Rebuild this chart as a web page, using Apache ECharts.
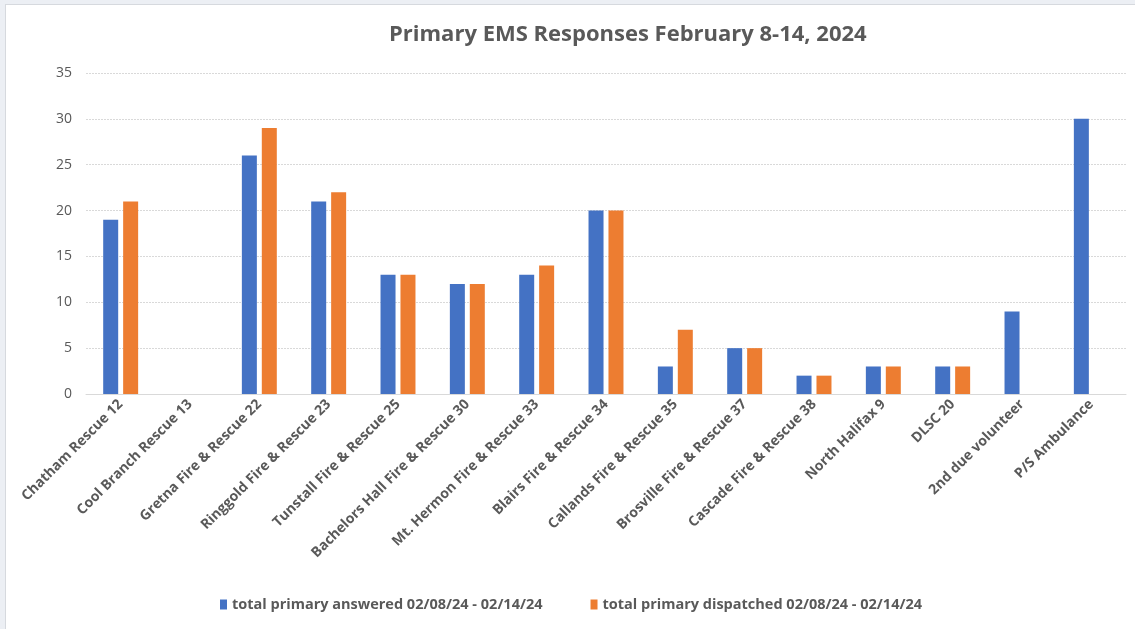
<!DOCTYPE html>
<html><head><meta charset="utf-8">
<script src="https://cdn.jsdelivr.net/npm/echarts@6/dist/echarts.min.js"></script>
<style>
html,body{margin:0;padding:0;background:#eceff4;width:1135px;height:629px;overflow:hidden}
#frame{position:absolute;left:5px;top:4px;width:1130px;height:625px;background:#fff;border-left:1px solid #d6d9de;border-top:1px solid #d6d9de}
#c{width:1130px;height:625px}
</style></head><body>
<div id="frame"><div id="c"></div></div>
<script>
const categories = ["Chatham Rescue 12","Cool Branch Rescue 13","Gretna Fire & Rescue 22","Ringgold Fire & Rescue 23","Tunstall Fire & Rescue 25","Bachelors Hall Fire & Rescue 30","Mt. Hermon Fire & Rescue 33","Blairs Fire & Rescue 34","Callands Fire & Rescue 35","Brosville Fire & Rescue 37","Cascade Fire & Rescue 38","North Halifax 9","DLSC 20","2nd due volunteer","P/S Ambulance"];
const answered = [19,0,26,21,13,12,13,20,3,5,2,3,3,9,30];
const dispatched = [21,0,29,22,13,12,14,20,7,5,2,3,3,null,null];
const seriesNames = ["total primary answered 02/08/24 - 02/14/24","total primary dispatched 02/08/24 - 02/14/24"];
const titleText = "Primary EMS Responses February 8-14, 2024";

const chart = echarts.init(document.getElementById('c'));
const font = '"Open Sans", "Noto Sans", sans-serif';
chart.setOption({
  animation:false,
  textStyle:{fontFamily:font},
  title:{text:titleText,left:378,top:14,textStyle:{fontSize:22,fontWeight:'bold',color:'#595959',fontFamily:font}},
  legend:{bottom:13,left:'center',itemWidth:7,itemHeight:10,itemGap:48,icon:'rect',
    textStyle:{fontSize:14.5,color:'#595959',fontWeight:'bold',fontFamily:font}},
  grid:{left:80,right:10,top:68,bottom:236},
  xAxis:{type:'category',data:categories,
    axisLine:{lineStyle:{color:'#d9d9d9'}},axisTick:{show:false},
    axisLabel:{rotate:45,interval:0,fontSize:14,fontWeight:'bold',color:'#595959',margin:8,fontFamily:font}},
  yAxis:{type:'value',min:0,max:35,interval:5,
    axisLabel:{fontSize:14,color:'#595959',margin:14,fontFamily:font},
    splitLine:{lineStyle:{color:'#d9d9d9',type:[2,1]}}},
  series:[
    {name:seriesNames[0],type:'bar',data:answered,barWidth:15,barGap:'33%',itemStyle:{color:'#4472C4'}},
    {name:seriesNames[1],type:'bar',data:dispatched,barWidth:15,barGap:'33%',itemStyle:{color:'#ED7D31'}}
  ]
});
</script></body></html>
